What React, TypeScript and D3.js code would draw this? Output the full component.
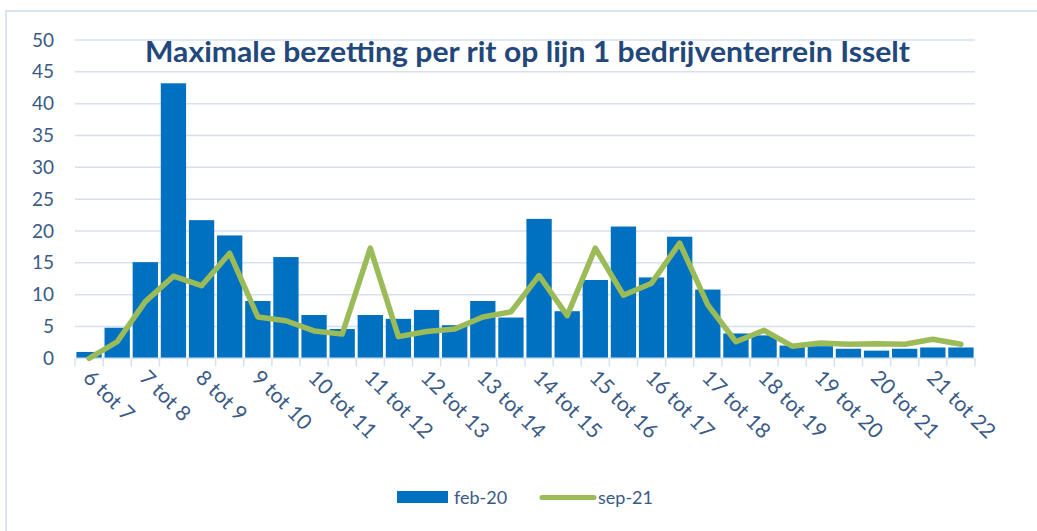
import * as d3 from 'd3';

// half-hour slots, labelled per hour
const slots = [
  '6:00', '6:30', '7:00', '7:30', '8:00', '8:30', '9:00', '9:30',
  '10:00', '10:30', '11:00', '11:30', '12:00', '12:30', '13:00', '13:30',
  '14:00', '14:30', '15:00', '15:30', '16:00', '16:30', '17:00', '17:30',
  '18:00', '18:30', '19:00', '19:30', '20:00', '20:30', '21:00', '21:30',
];
const hourLabels = [
  '6 tot 7', '7 tot 8', '8 tot 9', '9 tot 10', '10 tot 11', '11 tot 12', '12 tot 13', '13 tot 14',
  '14 tot 15', '15 tot 16', '16 tot 17', '17 tot 18', '18 tot 19', '19 tot 20', '20 tot 21', '21 tot 22',
];
const feb20 = [
  1, 4.8, 15.1, 43.2, 21.7, 19.3, 9.0, 15.9, 6.8, 4.6, 6.8, 6.2, 7.6, 5.2, 9.0, 6.4,
  21.9, 7.4, 12.3, 20.7, 12.7, 19.1, 10.8, 3.9, 3.6, 2.0, 1.9, 1.5, 1.2, 1.5, 1.7, 1.7,
];
const sep21 = [
  0, 2.6, 8.9, 12.9, 11.4, 16.5, 6.5, 5.9, 4.3, 3.8, 17.3, 3.4, 4.2, 4.6, 6.5, 7.3,
  13.0, 6.7, 17.3, 9.9, 11.8, 18.1, 8.4, 2.6, 4.4, 1.9, 2.4, 2.2, 2.3, 2.2, 3.0, 2.2,
];
const yTicks = [0, 5, 10, 15, 20, 25, 30, 35, 40, 45, 50];

const W = 1037, H = 531;
const left = 75, right = 975, top = 40, bottom = 358.3;
const textColor = '#3a5a86';
const gridColor = '#d5e0f1';

export default function App() {
  const x = d3.scaleBand<string>().domain(slots).range([left, right]).paddingInner(0.1).paddingOuter(0.05);
  const y = d3.scaleLinear().domain([0, 50]).range([bottom, top]);
  const step = x.step();
  const line = d3.line<number>()
    .x((_, i) => (x(slots[i]) as number) + x.bandwidth() / 2)
    .y(d => y(d));

  return (
    <svg width={W} height={H} style={{ position: 'absolute', left: 0, top: 0, background: '#fff' }}
      fontFamily="Lato, 'Open Sans', sans-serif">
      <rect x={6} y={11} width={W + 10} height={H + 10} fill="none" stroke="#dae3f3" strokeWidth={2} />

      {yTicks.map(t => (
        <g key={t}>
          {t > 0 && <line x1={left} x2={right} y1={y(t)} y2={y(t)} stroke={gridColor} strokeWidth={1.5} />}
          <text x={54} y={y(t)} dy="0.35em" textAnchor="end" fontSize={19} fill={textColor}>{t}</text>
        </g>
      ))}

      <text x={145} y={62} fontSize={28} fontWeight="bold" fill="#22477a"
        textLength={765} lengthAdjust="spacingAndGlyphs">
        Maximale bezetting per rit op lijn 1 bedrijventerrein Isselt
      </text>

      {feb20.map((v, i) => (
        <rect key={i} x={x(slots[i])} y={y(v)} width={x.bandwidth()} height={y(0) - y(v)} fill="#0070c0" />
      ))}

      <line x1={left} x2={right} y1={bottom} y2={bottom} stroke={gridColor} strokeWidth={1.5} />
      {d3.range(slots.length + 1).map(i => (
        <line key={i} x1={left + i * step} x2={left + i * step} y1={bottom} y2={bottom + 8}
          stroke={gridColor} strokeWidth={1.5} />
      ))}

      <path d={line(sep21) ?? ''} fill="none" stroke="#9bbb59" strokeWidth={5.5}
        strokeLinejoin="round" strokeLinecap="round" />

      {hourLabels.map((lab, i) => {
        const cx = (x(slots[i * 2]) as number) + x.bandwidth() / 2 - 7;
        return (
          <text key={lab} transform={`translate(${cx},${379}) rotate(45)`} fontSize={21} fill={textColor}>
            {lab}
          </text>
        );
      })}

      <rect x={397} y={491} width={51} height={12} fill="#0070c0" />
      <text x={454} y={504} fontSize={18} fill={textColor}>feb-20</text>
      <line x1={542} x2={594} y1={497.5} y2={497.5} stroke="#9bbb59" strokeWidth={5} strokeLinecap="round" />
      <text x={598} y={504} fontSize={18} fill={textColor}>sep-21</text>
    </svg>
  );
}
